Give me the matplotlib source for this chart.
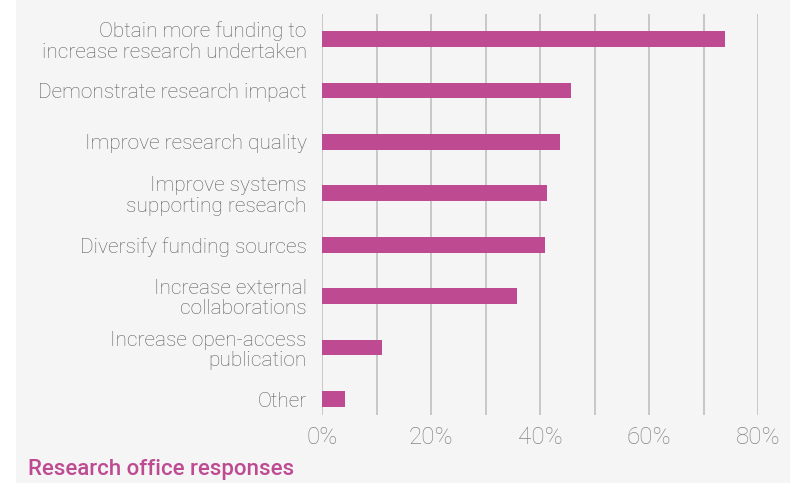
import matplotlib
matplotlib.use("Agg")
import matplotlib.pyplot as plt
from matplotlib.patches import Rectangle

categories = [
    "Obtain more funding to\nincrease research undertaken",
    "Demonstrate research impact",
    "Improve research quality",
    "Improve systems\nsupporting research",
    "Diversify funding sources",
    "Increase external\ncollaborations",
    "Increase open-access\npublication",
    "Other",
]
values = [73.9, 45.7, 43.7, 41.3, 41.0, 35.8, 11.1, 4.3]
major_ticks = [0, 20, 40, 60, 80]
minor_ticks = [10, 30, 50, 70]
tick_labels = ["0%", "20%", "40%", "60%", "80%"]
title = "Research office responses"

BG = "#f5f5f5"
BAR = "#be4a92"
FONT = "Roboto"

fig = plt.figure(figsize=(7.9, 4.83), dpi=100, facecolor=BG)
fig.patches.append(Rectangle((0, 0), 16 / 790, 1, transform=fig.transFigure,
                             facecolor="white", edgecolor="none", zorder=-1))

ax = fig.add_axes([322 / 790, 1 - 415 / 483, (758 - 322) / 790, (415 - 14) / 483])
ax.set_facecolor(BG)
y = list(range(len(categories)))
ax.barh(y, values, height=0.305, color=BAR, zorder=3)
ax.set_xlim(0, 80)
ax.set_ylim(7.311, -0.486)

ax.set_xticks(major_ticks)
ax.set_xticks(minor_ticks, minor=True)
ax.set_xticklabels(tick_labels, fontfamily=FONT, fontweight="light", fontsize=17.5, color="#858585")
ax.set_yticks(y)
ax.set_yticklabels(categories, fontfamily=FONT, fontweight="light", fontsize=15.0, color="#5e5e5e",
                   linespacing=1.09)
ax.tick_params(axis="both", which="both", length=0)
ax.tick_params(axis="x", pad=8.0)
ax.tick_params(axis="y", pad=11)
ax.grid(axis="x", which="both", color="#c4c4c4", linewidth=1.3, zorder=0)
for s in ax.spines.values():
    s.set_visible(False)

fig.text(28 / 790, 1 - 475.5 / 483, title, fontfamily=FONT, fontweight="medium", fontsize=16,
         color=BAR, va="baseline", ha="left")

fig.savefig("out.png", dpi=100, facecolor=BG)
